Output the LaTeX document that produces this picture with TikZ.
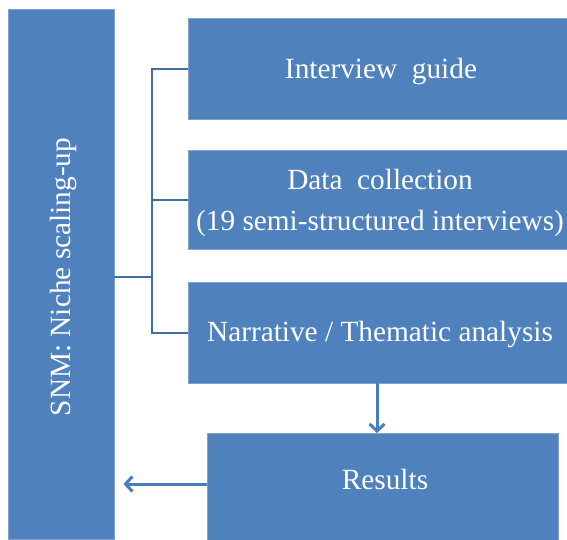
\documentclass[tikz,border=0pt]{standalone}
\usepackage{fontspec}
\setmainfont{Liberation Serif}
\usetikzlibrary{arrows.meta,calc}
\definecolor{boxblue}{HTML}{4F81BD}
\definecolor{boxedge}{HTML}{7FA3D0}
\definecolor{brk}{HTML}{3F6EA3}
\definecolor{arrc}{HTML}{4A7EBB}
\newcommand{\boxfont}{\fontsize{29.3}{41}\selectfont}
\tikzset{
  box/.style={rectangle, fill=boxblue, draw=boxedge, line width=0.8pt, text=white,
    font=\boxfont, align=center, inner sep=0pt},
  boxtext/.style={text=white, font=\boxfont, align=center, inner sep=0pt},
  bracketline/.style={draw=brk, line width=2pt},
  arrowline/.style={draw=arrc, line width=3pt, -{Straight Barb[length=7pt,width=15pt,line width=3pt]}}
}
\begin{document}
\begin{tikzpicture}[x=1pt,y=-1pt]
\useasboundingbox (0,0) rectangle (567,539);
\fill[white] (0,0) rectangle (567,539);
\node[box, minimum width=106pt, minimum height=530pt] (snm) at (61,274) {};
\node[boxtext, rotate=90] (snmtext) at (63,277) {SNM:\ Niche scaling-up};
\node[box, minimum width=379pt, minimum height=101pt] (b1) at (377.5,68.5) {};
\node[boxtext] (b1text) at (381,71) {Interview\ \ guide};
\node[box, minimum width=379pt, minimum height=99pt] (b2) at (377.5,199.5) {};
\node[boxtext] (b2text) at (380,203) {Data\ \ collection\\(19 semi-structured interviews)};
\node[box, minimum width=379pt, minimum height=101pt] (b3) at (377.5,332.5) {};
\node[boxtext] (b3text) at (380,334) {Narrative / Thematic analysis};
\node[box, minimum width=351pt, minimum height=120pt] (res) at (382.5,493) {};
\node[boxtext] (restext) at (385,479) {Results};
\coordinate (jn) at (152,277);
\draw[bracketline] (jn -| snm.east) -- (jn);
\draw[bracketline] (b1.west) -| (jn) |- (b3.west);
\draw[bracketline] (b2.west) -- (b2.west -| jn);
\draw[arrowline] (377,383) -- (377,433);
\draw[arrowline, shorten >=9pt] (res.west |- 0,484) -- (snm.east |- 0,484);
\end{tikzpicture}
\end{document}
